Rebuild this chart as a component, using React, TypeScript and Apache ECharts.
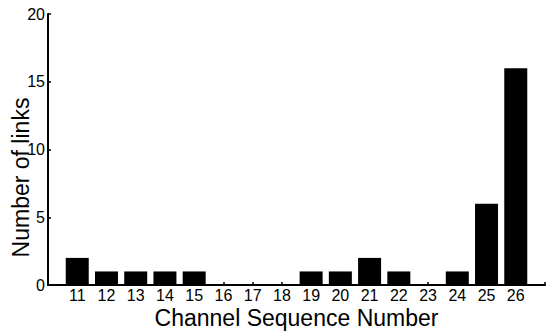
import React, { useEffect, useRef } from "react";
import * as echarts from "echarts";

const channels = [11, 12, 13, 14, 15, 16, 17, 18, 19, 20, 21, 22, 23, 24, 25, 26];
const links = [2, 1, 1, 1, 1, 0, 0, 0, 1, 1, 2, 1, 0, 1, 6, 16];
const xMin = 10;
const xMax = 27;
const yTicks = [0, 5, 10, 15, 20];

export default function App() {
  const ref = useRef<HTMLDivElement>(null);
  useEffect(() => {
    if (!ref.current) return;
    const chart = echarts.init(ref.current, undefined, { renderer: "svg" });
    const font = "Liberation Sans, Arial, sans-serif";
    chart.setOption({
      animation: false,
      backgroundColor: "#ffffff",
      grid: { left: 48, right: 2, top: 14, bottom: 48, outerBoundsMode: "none", containLabel: false },
      xAxis: {
        type: "value",
        min: xMin,
        max: xMax,
        interval: 1,
        name: "Channel Sequence Number",
        nameLocation: "middle",
        nameGap: 22,
        nameMoveOverlap: false,
        nameTextStyle: { fontFamily: font, fontSize: 23, lineHeight: 22, color: "#000" },
        axisLine: { lineStyle: { color: "#000", width: 2 } },
        axisTick: { inside: true, length: 3, lineStyle: { color: "#000", width: 1.5 } },
        splitLine: { show: false },
        axisLabel: {
          fontFamily: font,
          fontSize: 16,
          lineHeight: 13,
          color: "#000",
          margin: 4,
          formatter: (v: number) => (channels.includes(v) ? String(v) : ""),
        },
      },
      yAxis: {
        type: "value",
        min: yTicks[0],
        max: yTicks[yTicks.length - 1],
        interval: 5,
        name: "Number of links",
        nameLocation: "middle",
        nameGap: 16,
        nameMoveOverlap: false,
        nameTextStyle: {
          fontFamily: font,
          fontSize: 23,
          lineHeight: 23,
          color: "#000",
          padding: [0, 56, 0, 0],
        },
        axisLine: { show: true, lineStyle: { color: "#000", width: 2 } },
        axisTick: { show: true, inside: true, length: 3, lineStyle: { color: "#000", width: 1.5 } },
        splitLine: { show: false },
        axisLabel: { fontFamily: font, fontSize: 16, color: "#000", margin: 3 },
      },
      series: [
        {
          type: "bar",
          data: channels.map((c, i) => [c, links[i]]),
          barWidth: 23,
          itemStyle: { color: "#000" },
        },
      ],
    });
    return () => chart.dispose();
  }, []);
  return (
    <div
      ref={ref}
      style={{ position: "absolute", left: 0, top: 0, width: 547, height: 333 }}
    />
  );
}
